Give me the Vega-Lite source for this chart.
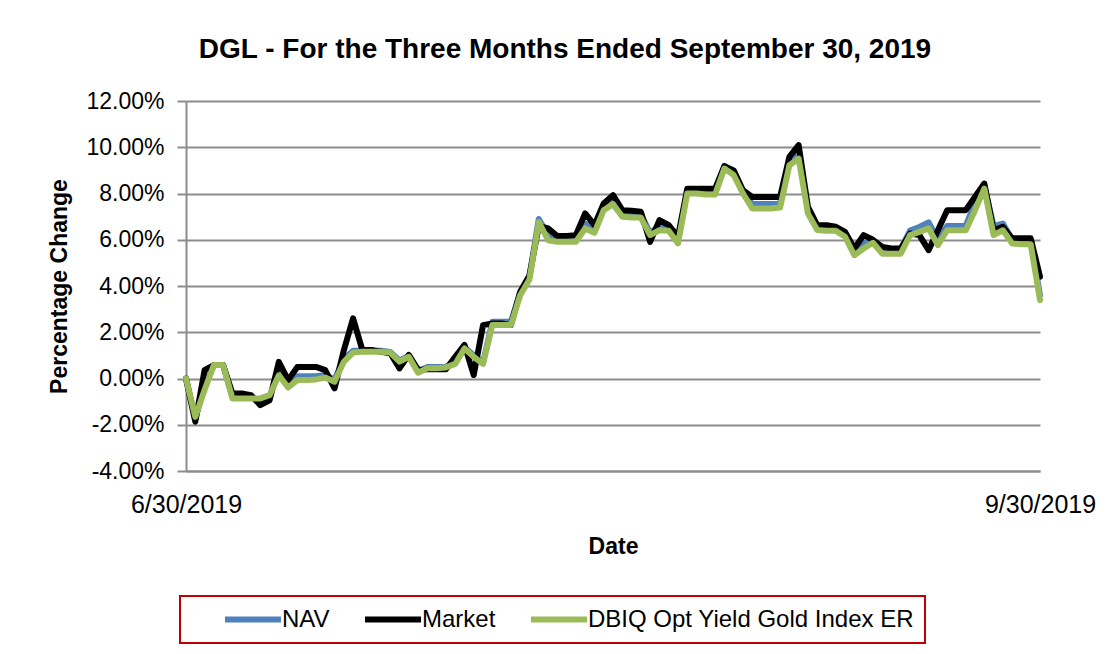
{
  "$schema": "https://vega.github.io/schema/vega-lite/v6.json",
  "width": 854,
  "height": 370,
  "autosize": {"type": "none"},
  "padding": {"left": 186, "top": 101, "right": 77, "bottom": 183},
  "background": "white",
  "title": {
    "text": "DGL - For the Three Months Ended September 30, 2019",
    "font": "Liberation Sans", "fontSize": 28, "fontWeight": "bold", "color": "black",
    "anchor": "middle", "frame": "group", "dx": -48, "offset": 26
  },
  "data": {
    "values": [
      {"date": "2019-06-30", "NAV": 0, "Market": 0, "Index": 0},
      {"date": "2019-07-01", "NAV": -1.75, "Market": -1.87, "Index": -1.66},
      {"date": "2019-07-02", "NAV": -0.3, "Market": 0.36, "Index": -0.5},
      {"date": "2019-07-03", "NAV": 0.58, "Market": 0.58, "Index": 0.58},
      {"date": "2019-07-04", "NAV": 0.58, "Market": 0.58, "Index": 0.58},
      {"date": "2019-07-05", "NAV": -0.8, "Market": -0.65, "Index": -0.86},
      {"date": "2019-07-06", "NAV": -0.8, "Market": -0.65, "Index": -0.86},
      {"date": "2019-07-07", "NAV": -0.8, "Market": -0.72, "Index": -0.86},
      {"date": "2019-07-08", "NAV": -0.95, "Market": -1.15, "Index": -0.86},
      {"date": "2019-07-09", "NAV": -0.8, "Market": -0.94, "Index": -0.72},
      {"date": "2019-07-10", "NAV": 0.3, "Market": 0.72, "Index": 0.14},
      {"date": "2019-07-11", "NAV": -0.25, "Market": -0.07, "Index": -0.39},
      {"date": "2019-07-12", "NAV": 0.1, "Market": 0.5, "Index": -0.07},
      {"date": "2019-07-13", "NAV": 0.1, "Market": 0.5, "Index": -0.07},
      {"date": "2019-07-14", "NAV": 0.1, "Market": 0.5, "Index": -0.04},
      {"date": "2019-07-15", "NAV": 0.15, "Market": 0.36, "Index": 0.04},
      {"date": "2019-07-16", "NAV": -0.05, "Market": -0.43, "Index": -0.14},
      {"date": "2019-07-17", "NAV": 0.85, "Market": 1.22, "Index": 0.72},
      {"date": "2019-07-18", "NAV": 1.2, "Market": 2.6, "Index": 1.12},
      {"date": "2019-07-19", "NAV": 1.2, "Market": 1.23, "Index": 1.16},
      {"date": "2019-07-20", "NAV": 1.2, "Market": 1.23, "Index": 1.16},
      {"date": "2019-07-21", "NAV": 1.2, "Market": 1.16, "Index": 1.16},
      {"date": "2019-07-22", "NAV": 1.15, "Market": 1.09, "Index": 1.12},
      {"date": "2019-07-23", "NAV": 0.78, "Market": 0.44, "Index": 0.73},
      {"date": "2019-07-24", "NAV": 0.98, "Market": 1.02, "Index": 0.94},
      {"date": "2019-07-25", "NAV": 0.3, "Market": 0.37, "Index": 0.25},
      {"date": "2019-07-26", "NAV": 0.5, "Market": 0.4, "Index": 0.44},
      {"date": "2019-07-27", "NAV": 0.5, "Market": 0.4, "Index": 0.44},
      {"date": "2019-07-28", "NAV": 0.5, "Market": 0.4, "Index": 0.48},
      {"date": "2019-07-29", "NAV": 0.72, "Market": 0.94, "Index": 0.63},
      {"date": "2019-07-30", "NAV": 1.35, "Market": 1.45, "Index": 1.3},
      {"date": "2019-07-31", "NAV": 1.0, "Market": 0.15, "Index": 0.94},
      {"date": "2019-08-01", "NAV": 0.7, "Market": 2.31, "Index": 0.63},
      {"date": "2019-08-02", "NAV": 2.45, "Market": 2.38, "Index": 2.31},
      {"date": "2019-08-03", "NAV": 2.45, "Market": 2.38, "Index": 2.31},
      {"date": "2019-08-04", "NAV": 2.45, "Market": 2.31, "Index": 2.31},
      {"date": "2019-08-05", "NAV": 3.7, "Market": 3.75, "Index": 3.6},
      {"date": "2019-08-06", "NAV": 4.4, "Market": 4.45, "Index": 4.28},
      {"date": "2019-08-07", "NAV": 6.9, "Market": 6.6, "Index": 6.77},
      {"date": "2019-08-08", "NAV": 6.2, "Market": 6.49, "Index": 5.98},
      {"date": "2019-08-09", "NAV": 6.0, "Market": 6.16, "Index": 5.91},
      {"date": "2019-08-10", "NAV": 6.0, "Market": 6.16, "Index": 5.91},
      {"date": "2019-08-11", "NAV": 6.0, "Market": 6.2, "Index": 5.91},
      {"date": "2019-08-12", "NAV": 6.7, "Market": 7.14, "Index": 6.49},
      {"date": "2019-08-13", "NAV": 6.45, "Market": 6.63, "Index": 6.3},
      {"date": "2019-08-14", "NAV": 7.4, "Market": 7.57, "Index": 7.28},
      {"date": "2019-08-15", "NAV": 7.7, "Market": 7.93, "Index": 7.54},
      {"date": "2019-08-16", "NAV": 7.1, "Market": 7.28, "Index": 6.99},
      {"date": "2019-08-17", "NAV": 7.1, "Market": 7.25, "Index": 6.96},
      {"date": "2019-08-18", "NAV": 7.1, "Market": 7.21, "Index": 6.96},
      {"date": "2019-08-19", "NAV": 6.3, "Market": 5.91, "Index": 6.2},
      {"date": "2019-08-20", "NAV": 6.6, "Market": 6.85, "Index": 6.41},
      {"date": "2019-08-21", "NAV": 6.5, "Market": 6.63, "Index": 6.39},
      {"date": "2019-08-22", "NAV": 6.0, "Market": 6.13, "Index": 5.84},
      {"date": "2019-08-23", "NAV": 8.1, "Market": 8.21, "Index": 8.0},
      {"date": "2019-08-24", "NAV": 8.1, "Market": 8.21, "Index": 8.0},
      {"date": "2019-08-25", "NAV": 8.1, "Market": 8.21, "Index": 7.96},
      {"date": "2019-08-26", "NAV": 8.1, "Market": 8.21, "Index": 7.96},
      {"date": "2019-08-27", "NAV": 9.2, "Market": 9.18, "Index": 9.08},
      {"date": "2019-08-28", "NAV": 8.95, "Market": 9.0, "Index": 8.8},
      {"date": "2019-08-29", "NAV": 8.05, "Market": 8.14, "Index": 8.0},
      {"date": "2019-08-30", "NAV": 7.55, "Market": 7.85, "Index": 7.35},
      {"date": "2019-08-31", "NAV": 7.55, "Market": 7.85, "Index": 7.35},
      {"date": "2019-09-01", "NAV": 7.55, "Market": 7.85, "Index": 7.35},
      {"date": "2019-09-02", "NAV": 7.55, "Market": 7.85, "Index": 7.39},
      {"date": "2019-09-03", "NAV": 9.35, "Market": 9.58, "Index": 9.22},
      {"date": "2019-09-04", "NAV": 9.8, "Market": 10.09, "Index": 9.51},
      {"date": "2019-09-05", "NAV": 7.3, "Market": 7.42, "Index": 7.13},
      {"date": "2019-09-06", "NAV": 6.55, "Market": 6.63, "Index": 6.42},
      {"date": "2019-09-07", "NAV": 6.55, "Market": 6.63, "Index": 6.39},
      {"date": "2019-09-08", "NAV": 6.55, "Market": 6.56, "Index": 6.39},
      {"date": "2019-09-09", "NAV": 6.3, "Market": 6.34, "Index": 6.13},
      {"date": "2019-09-10", "NAV": 5.5, "Market": 5.62, "Index": 5.33},
      {"date": "2019-09-11", "NAV": 5.85, "Market": 6.2, "Index": 5.62},
      {"date": "2019-09-12", "NAV": 5.95, "Market": 6.0, "Index": 5.87},
      {"date": "2019-09-13", "NAV": 5.6, "Market": 5.69, "Index": 5.4},
      {"date": "2019-09-14", "NAV": 5.6, "Market": 5.62, "Index": 5.4},
      {"date": "2019-09-15", "NAV": 5.6, "Market": 5.62, "Index": 5.4},
      {"date": "2019-09-16", "NAV": 6.4, "Market": 6.27, "Index": 6.2},
      {"date": "2019-09-17", "NAV": 6.55, "Market": 6.2, "Index": 6.34},
      {"date": "2019-09-18", "NAV": 6.75, "Market": 5.55, "Index": 6.49},
      {"date": "2019-09-19", "NAV": 6.0, "Market": 6.41, "Index": 5.77},
      {"date": "2019-09-20", "NAV": 6.6, "Market": 7.28, "Index": 6.41},
      {"date": "2019-09-21", "NAV": 6.6, "Market": 7.28, "Index": 6.41},
      {"date": "2019-09-22", "NAV": 6.6, "Market": 7.28, "Index": 6.41},
      {"date": "2019-09-23", "NAV": 7.6, "Market": 7.86, "Index": 7.28},
      {"date": "2019-09-24", "NAV": 8.35, "Market": 8.43, "Index": 8.21},
      {"date": "2019-09-25", "NAV": 6.6, "Market": 6.41, "Index": 6.2},
      {"date": "2019-09-26", "NAV": 6.7, "Market": 6.56, "Index": 6.41},
      {"date": "2019-09-27", "NAV": 6.0, "Market": 6.06, "Index": 5.84},
      {"date": "2019-09-28", "NAV": 6.0, "Market": 6.06, "Index": 5.81},
      {"date": "2019-09-29", "NAV": 6.0, "Market": 6.06, "Index": 5.81},
      {"date": "2019-09-30", "NAV": 3.6, "Market": 4.4, "Index": 3.39}
    ]
  },
  "transform": [
    {"fold": ["NAV", "Market", "Index"], "as": ["series", "value"]}
  ],
  "mark": {"type": "line", "strokeWidth": 6, "strokeJoin": "round", "strokeCap": "round"},
  "encoding": {
    "x": {
      "field": "date", "type": "temporal",
      "scale": {"type": "utc", "nice": false,
        "domain": [{"year": 2019, "month": 6, "date": 30, "utc": true}, {"year": 2019, "month": 9, "date": 30, "utc": true}]},
      "axis": {
        "title": "Date",
        "values": [{"year": 2019, "month": 6, "date": 30, "utc": true}, {"year": 2019, "month": 9, "date": 30, "utc": true}],
        "labelExpr": "utcFormat(datum.value, '%-m/%d/%Y')",
        "grid": false, "ticks": false,
        "domain": true, "domainColor": "#8c8c8c", "domainWidth": 2,
        "labelFont": "Liberation Sans", "labelFontSize": 25, "labelColor": "black",
        "labelPadding": 21, "labelFlush": false, "labelOverlap": false, "labelAlign": "center",
        "titleFont": "Liberation Sans", "titleFontSize": 23, "titleFontWeight": "bold", "titleColor": "black",
        "titlePadding": 18
      }
    },
    "y": {
      "field": "value", "type": "quantitative",
      "scale": {"domain": [-4, 12], "nice": false, "zero": false},
      "axis": {
        "title": "Percentage Change",
        "values": [-4, -2, 0, 2, 4, 6, 8, 10, 12],
        "labelExpr": "(datum.value < 0 ? '-' : '') + format(abs(datum.value), '.2f') + '%'",
        "grid": true, "gridColor": "#8c8c8c", "gridWidth": 2,
        "domain": true, "domainColor": "#8c8c8c", "domainWidth": 2,
        "ticks": true, "tickSize": 9, "tickColor": "#8c8c8c", "tickWidth": 2,
        "labelFont": "Liberation Sans", "labelFontSize": 23, "labelColor": "black", "labelPadding": 13,
        "titleFont": "Liberation Sans", "titleFontSize": 23, "titleFontWeight": "bold", "titleColor": "black",
        "titlePadding": 14
      }
    },
    "color": {
      "field": "series", "type": "nominal",
      "scale": {"domain": ["NAV", "Market", "Index"], "range": ["#4f81bd", "#000000", "#9bbb59"]},
      "legend": {
        "orient": "none", "legendX": -6, "legendY": 495, "direction": "horizontal", "columns": 3,
        "title": null, "strokeColor": "#c00000", "padding": 11,
        "symbolType": "stroke", "symbolSize": 3136, "symbolStrokeWidth": 6,
        "symbolOffset": 31, "columnPadding": 1, "clipHeight": 25,
        "labelFont": "Liberation Sans", "labelFontSize": 24, "labelColor": "black", "labelOffset": -2,
        "labelLimit": 500,
        "labelExpr": "datum.label == 'Index' ? 'DBIQ Opt Yield Gold Index ER' : datum.label",
        "encode": {"legend": {"update": {"strokeWidth": {"value": 2}}}}
      }
    }
  },
  "config": {"view": {"stroke": null}}
}
